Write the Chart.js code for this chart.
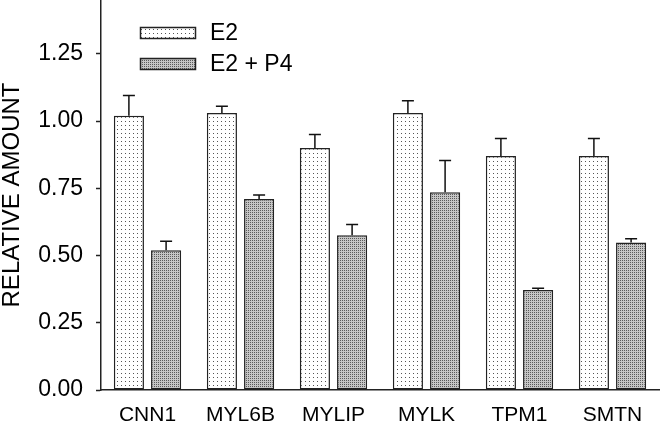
<!DOCTYPE html>
<html>
<head>
<meta charset="utf-8">
<script src="https://cdn.jsdelivr.net/npm/chart.js@4"></script>
<style>
  html, body { margin: 0; padding: 0; background: #fff; }
  #wrap { width: 660px; height: 421px; }
</style>
</head>
<body>
<div id="wrap"><canvas id="chart" width="660" height="421"></canvas></div>
<script>
// -- Data --
const GENES = ['CNN1', 'MYL6B', 'MYLIP', 'MYLK', 'TPM1', 'SMTN'];
const E2_MEAN = [1.02, 1.03, 0.90, 1.03, 0.87, 0.87];
const E2_ERR = [0.075, 0.025, 0.05, 0.045, 0.065, 0.065];
const E2P4_MEAN = [0.52, 0.71, 0.575, 0.735, 0.372, 0.548];
const E2P4_ERR = [0.033, 0.015, 0.04, 0.118, 0.006, 0.014];
const Y_TICKS = [0, 0.25, 0.5, 0.75, 1.0, 1.25];

const FONT = 'Liberation Sans, Arial, sans-serif';

// small tiled fills for the stippled bars
function makePattern(size, bg, dots) {
    const c = document.createElement('canvas');
    c.width = size; c.height = size;
    const g = c.getContext('2d');
    g.fillStyle = bg;
    g.fillRect(0, 0, size, size);
    dots.forEach(d => { g.fillStyle = d[2]; g.fillRect(d[0], d[1], 1, 1); });
    return g.createPattern(c, 'repeat');
}
const ctx = document.getElementById('chart').getContext('2d');
const sparseDots = makePattern(4, '#ffffff', [[1, 1, '#555555']]);
const denseDots = makePattern(2, '#c6c6c6', [[0, 0, '#5a5a5a']]);

const errs = [E2_ERR, E2P4_ERR];

// -- error bars (upper only) --
const errorBars = {
    id: 'errorBars',
    afterDatasetsDraw(chart) {
        const c = chart.ctx, y = chart.scales.y;
        c.save();
        c.strokeStyle = '#111';
        c.lineWidth = 1.5;
        chart.data.datasets.forEach((ds, di) => {
            chart.getDatasetMeta(di).data.forEach((bar, i) => {
                const top = y.getPixelForValue(ds.data[i] + errs[di][i]);
                c.beginPath();
                c.moveTo(bar.x, bar.y);
                c.lineTo(bar.x, top);
                c.moveTo(bar.x - 6, top);
                c.lineTo(bar.x + 6, top);
                c.stroke();
            });
        });
        c.restore();
    }
};

// -- legend inside the plot --
const innerLegend = {
    id: 'innerLegend',
    afterDraw(chart) {
        const c = chart.ctx;
        c.save();
        chart.data.datasets.forEach((ds, i) => {
            const yMid = 33 + i * 31;
            c.fillStyle = ds.backgroundColor;
            c.fillRect(140, yMid - 6, 56, 12);
            c.strokeStyle = '#222';
            c.lineWidth = 1.5;
            c.strokeRect(140.5, yMid - 5.5, 55, 11);
            c.fillStyle = '#000';
            c.font = '23px ' + FONT;
            c.textBaseline = 'middle';
            c.fillText(ds.label, 210, yMid + 1);
        });
        c.restore();
    }
};

new Chart(ctx, {
    type: 'bar',
    data: {
        labels: GENES,
        datasets: [{
            label: 'E2',
            data: E2_MEAN,
            backgroundColor: sparseDots,
            borderColor: '#222',
            borderWidth: 1.5,
            borderSkipped: false
        }, {
            label: 'E2 + P4',
            data: E2P4_MEAN,
            backgroundColor: denseDots,
            borderColor: '#222',
            borderWidth: 1.5,
            borderSkipped: false
        }]
    },
    options: {
        responsive: false,
        animation: false,
        devicePixelRatio: 1,
        categoryPercentage: 0.8,
        barPercentage: 0.81,
        layout: { padding: { top: 0, right: 1, left: 0, bottom: 0 } },
        plugins: {
            legend: { display: false },
            tooltip: { enabled: false }
        },
        scales: {
            x: {
                grid: { display: false, drawTicks: false },
                border: { display: true, color: '#222', width: 1.5 },
                ticks: { color: '#000', font: { family: FONT, size: 21 }, padding: 13 },
                afterFit(s) { s.height = 31; s.paddingLeft = 0; s.paddingRight = 0; }
            },
            y: {
                min: 0,
                max: 1.45,
                afterBuildTicks(s) { s.ticks = Y_TICKS.map(v => ({ value: v })); },
                grid: { drawOnChartArea: false, tickLength: 5, tickColor: '#222', tickWidth: 1.5 },
                border: { display: true, color: '#222', width: 1.5 },
                ticks: {
                    color: '#000',
                    font: { family: FONT, size: 23 },
                    padding: 13,
                    callback: v => Number(v).toFixed(2)
                },
                title: {
                    display: true,
                    text: 'RELATIVE AMOUNT',
                    color: '#000',
                    font: { family: FONT, size: 24, lineHeight: 1.0 },
                    padding: 0
                },
                afterFit(s) { s.width = 101; s.paddingTop = 0; s.paddingBottom = 0; }
            }
        }
    },
    plugins: [errorBars, innerLegend]
});
</script>
</body>
</html>
